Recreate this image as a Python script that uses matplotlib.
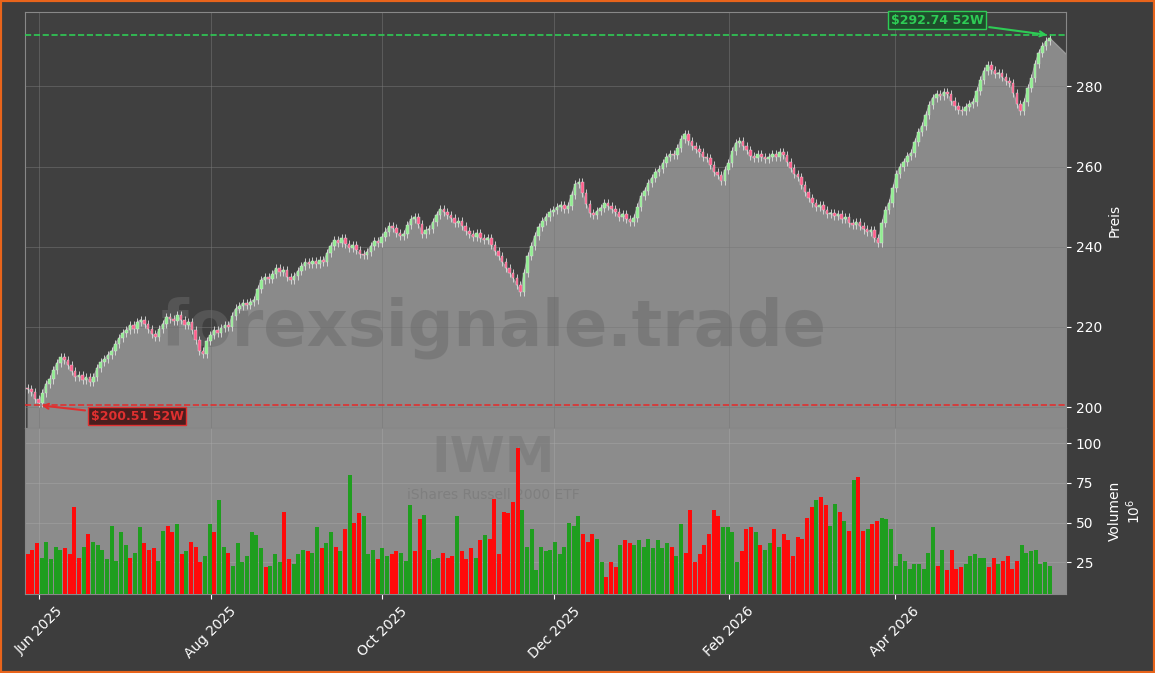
import matplotlib
matplotlib.use("Agg")
import matplotlib.pyplot as plt
import matplotlib.dates as mdates
import numpy as np
import pandas as pd

start, end = "2025-05-28", "2026-05-26"
closes = [204.5,203.8,202.1,201.0, 203.5,205.8,206.9,209.2,211.0, 212.4,211.8,210.5, 209.0,207.6,207.9,
 206.8,207.4,206.2,207.5, 209.8,211.2,212.0,213.1, 214.0,215.8,217.2,218.5,219.3, 220.4,219.6,221.2,221.8,
 220.7,219.5,218.2,217.6, 219.4,220.8,222.6,222.1, 221.5,222.9,221.7,220.6,221.3, 219.2,216.8,214.0,213.2,
 216.5,218.0,219.2, 218.6,219.8,220.4,219.9, 222.8,224.6,225.2, 226.0,225.4,226.3,226.8, 229.5,231.8,232.4,231.9,
 233.2,234.6,233.8,234.2, 232.5,231.8,232.6, 233.9,235.2,236.1,235.7, 236.4,235.8,236.6,236.2,
 238.5,240.3,241.6,241.0, 242.1,240.6,239.8,240.4, 239.1,238.2,237.9, 238.8,240.2,241.5,240.9,
 242.4,243.8,245.1,244.6, 243.5,242.6,243.2, 245.3,246.8,247.4, 245.6,243.2,244.1,244.5, 246.2,248.0,249.4,248.7,
 247.9,247.1,245.8,246.3,245.2, 244.0,243.1,242.5,243.4, 242.2,241.6,242.3, 240.5,238.9,237.6,
 236.2,234.8,233.5,232.1, 230.4,228.8, 233.5,237.6, 240.2,242.8,244.9, 246.3,247.5,248.6,249.1,
 249.8,250.4,249.5,250.2, 253.0,255.6,256.1, 253.4,250.6,248.3,248.0, 248.9,249.7,250.8,250.1,
 249.4,248.6,247.3,248.2, 247.0,246.2,247.1, 249.8,252.6,254.0, 255.8,257.2,258.6,259.3,
 260.8,262.3,263.1,262.8, 264.5,266.8,268.2, 266.4,265.2,264.3, 263.5,262.4,262.1, 260.3,258.6,257.9,
 256.4,259.2,261.0, 263.8,265.9,266.4, 265.2,264.0,262.6,262.1, 263.0,262.4,261.8,262.3,
 263.1,262.5,263.6,262.9, 261.2,259.6,258.1,257.3, 255.4,253.6,252.2, 250.8,249.9,250.4, 249.2,248.1,248.5,
 247.6,248.2,246.9,247.3, 246.0,245.4,246.2, 245.1,244.3,243.8,244.2, 242.1,240.9, 245.8,249.2,251.0,
 254.6,258.1,260.0, 261.2,262.6,263.4, 266.2,268.5,270.1, 272.8,275.4,277.2, 278.1,277.5,278.6,278.0,
 276.4,275.2,274.1,273.8, 274.9,275.6,276.2, 278.8,281.5,283.9,285.2, 284.1,283.0,283.4,
 282.2,281.4,280.8, 278.3,275.6,273.9, 276.2,279.5,282.0, 285.6,288.4,290.1, 291.2,292.0]
volumes = [30,33,37,28,38,27,35,33,34,30, 60,28,35,43,38,36,33,27,48,26,
 44,36,28,31,47,37,33,34,26,45, 48,44,49,30,32,38,35,25,29,49,
 44,64,35,31,23,37,25,29,44,42, 34,22,23,30,25,57,27,24,30,33,
 32,31,47,34,37,44,35,32,46,80, 50,56,54,30,33,27,34,29,30,32,
 31,26,61,32,52,55,33,27,28,31, 28,29,54,32,27,34,28,39,42,40,
 65,30,57,56,63,97,58,35,46,20, 35,32,33,38,30,35,50,48,54,43,
 38,43,40,25,16,25,22,36,39,37, 36,39,35,40,34,39,34,37,35,29,
 49,31,58,25,30,36,43,58,54,47, 47,44,25,32,46,47,44,36,33,37,
 46,35,43,39,29,41,40,53,60,64, 66,61,48,62,57,51,45,77,79,45,
 46,49,51,53,52,46,23,30,26,21, 24,24,21,31,47,23,33,20,33,21,
 22,24,29,30,28,28,22,28,24,26, 29,21,26,36,31,32,33,24,25,23]
high52, low52 = 292.74, 200.51
area_tail = 288.0

c = np.array(closes)
o = np.r_[c[0] + 0.4, c[:-1]]
t0, t1 = mdates.datestr2num(start), mdates.datestr2num(end)
x = np.linspace(t0, t1, len(c))
xv = np.linspace(t0, t1, len(volumes))
step = x[1] - x[0]
vstep = xv[1] - xv[0]

BG = "#3d3d3d"
fig = plt.figure(figsize=(11.55, 6.73), dpi=100, facecolor=BG)
fig.patches.append(plt.Rectangle((0, 0), 1, 1, transform=fig.transFigure, fill=False,
                                 edgecolor="#e8641b", linewidth=3))
ax = fig.add_axes([0.0216, 0.364, 0.9014, 0.618])
axv = fig.add_axes([0.0216, 0.117, 0.9014, 0.247], sharex=ax)
ax.set_facecolor("#404040")
axv.set_facecolor("#8c8c8c")
xlim = (mdates.datestr2num("2025-05-27"), mdates.datestr2num("2026-05-31 20:00"))
ymin, ymax = 194.8, 298.5
xa = np.r_[x, xlim[1]]
ca = np.r_[c, area_tail]
ax.fill_between(xa, ymin, ca, color="#8a8a8a", zorder=1)
ax.plot(xa, ca, color="#9a9a9a", lw=0.8, zorder=1)
for xi, oi, ci in zip(x, o, c):
    up = ci >= oi
    col = "#90ee90" if up else "#ff5c8a"
    ax.vlines(xi, min(oi, ci) - 1.0, max(oi, ci) + 1.0, color="#e0e0e0", lw=0.6, zorder=3)
    ax.bar(xi, max(abs(ci - oi), 0.4), bottom=min(oi, ci), width=step * 0.7,
           color=col, edgecolor="#e0e0e0", linewidth=0.3, zorder=4)
ax.axhline(high52, color="#2ecc55", ls="--", lw=1.2, zorder=5)
ax.axhline(low52, color="#e03030", ls="--", lw=1.2, zorder=5)
imax, imin = int(np.argmax(c)), int(np.argmin(c))
ax.annotate(f"${high52:.2f} 52W", xy=(x[imax], high52), xytext=(x[imax] - 40, 296.5),
            color="#2ecc55", fontsize=9, fontweight="bold", ha="center", va="center",
            bbox=dict(boxstyle="square,pad=0.2", fc="#1e4d2b", ec="#2ecc55"),
            arrowprops=dict(arrowstyle="->", color="#2ecc55", lw=1.5), zorder=6)
ax.annotate(f"${low52:.2f} 52W", xy=(x[imin], low52), xytext=(x[imin] + 35, 197.7),
            color="#e03030", fontsize=9, fontweight="bold", ha="center", va="center",
            bbox=dict(boxstyle="square,pad=0.2", fc="#4a1e1e", ec="#e03030"),
            arrowprops=dict(arrowstyle="->", color="#e03030", lw=1.5), zorder=6)
ax.text(0.45, 0.24, "forexsignale.trade", transform=ax.transAxes, ha="center", va="center",
        fontsize=46, fontweight="bold", color="#6a6a6a", alpha=0.5, zorder=2)
ax.set_ylim(ymin, ymax)
ax.set_xlim(*xlim)
ax.yaxis.tick_right(); ax.yaxis.set_label_position("right")
ax.set_ylabel("Preis", color="white")
ax.set_yticks([200, 220, 240, 260, 280])
ax.grid(True, color="#777777", lw=0.6, alpha=0.6)
ax.tick_params(colors="white", labelbottom=False)

nearest = np.clip(np.searchsorted(x, xv), 0, len(c) - 1)
vcols = ["#1f9e1f" if c[k] >= o[k] else "#ff0a0a" for k in nearest]
axv.bar(xv, volumes, width=vstep * 0.85, color=vcols, zorder=3)
axv.text(0.45, 0.82, "IWM", transform=axv.transAxes, ha="center", va="center",
         fontsize=36, fontweight="bold", color="#7c7c7c", alpha=0.7, zorder=2)
axv.text(0.45, 0.6, "iShares Russell 2000 ETF", transform=axv.transAxes, ha="center",
         va="center", fontsize=10, color="#7c7c7c", alpha=0.8, zorder=2)
axv.set_ylim(5, 109.5)
axv.set_yticks([25, 50, 75, 100])
axv.yaxis.tick_right(); axv.yaxis.set_label_position("right")
axv.set_ylabel("Volumen\n$10^6$", color="white")
axv.grid(True, color="#aaaaaa", lw=0.6, alpha=0.5)
axv.tick_params(colors="white")
axv.xaxis.set_major_locator(mdates.MonthLocator(bymonth=[6, 8, 10, 12, 2, 4]))
axv.xaxis.set_major_formatter(mdates.DateFormatter("%b %Y"))
plt.setp(axv.get_xticklabels(), rotation=45, ha="center")
for a in (ax, axv):
    for s in a.spines.values():
        s.set_color("#888888")
fig.savefig("out.png", dpi=100, facecolor=BG)
